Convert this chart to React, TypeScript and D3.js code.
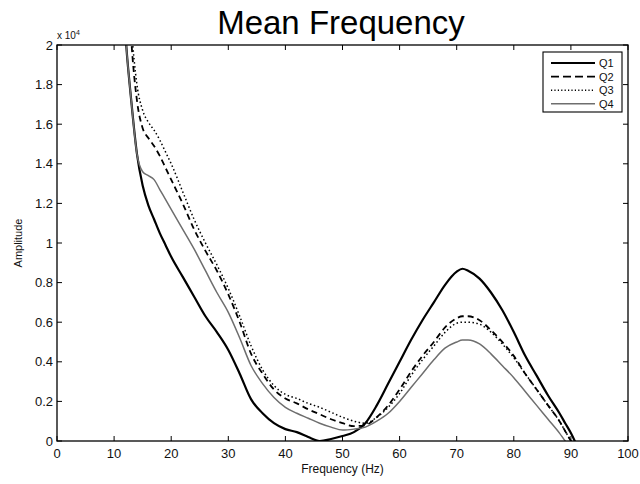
import React from "react";
import * as d3 from "d3";

const xTicks = [0, 10, 20, 30, 40, 50, 60, 70, 80, 90, 100];
const yTicks = [0, 0.2, 0.4, 0.6, 0.8, 1, 1.2, 1.4, 1.6, 1.8, 2];
const seriesNames = ["Q1", "Q2", "Q3", "Q4"];

const freqQ1 = [11, 12, 13, 14, 15, 16, 17, 18, 19, 20, 22, 24, 26, 28, 30, 32, 34, 36, 38, 40, 42, 44, 46, 48, 50, 52, 54, 56, 58, 60, 62, 64, 66, 68, 70, 71, 72, 74, 76, 78, 80, 82, 84, 86, 88, 89, 90, 91];
const ampQ1 = [2.6, 2.05, 1.72, 1.45, 1.29, 1.19, 1.12, 1.05, 0.99, 0.93, 0.83, 0.73, 0.63, 0.55, 0.46, 0.34, 0.21, 0.14, 0.09, 0.06, 0.045, 0.02, 0.0, 0.01, 0.025, 0.045, 0.09, 0.18, 0.29, 0.4, 0.51, 0.61, 0.7, 0.79, 0.855, 0.87, 0.86, 0.82, 0.75, 0.66, 0.55, 0.43, 0.33, 0.23, 0.14, 0.09, 0.04, -0.02];

const freqQ2 = [12, 13, 14, 15, 16, 17, 18, 19, 20, 22, 24, 26, 28, 30, 32, 34, 36, 38, 40, 42, 44, 46, 48, 50, 52, 54, 56, 58, 60, 62, 64, 66, 68, 70, 71, 72, 74, 76, 78, 80, 82, 84, 86, 88, 89, 90, 91];
const ampQ2 = [2.6, 2.03, 1.72, 1.58, 1.53, 1.49, 1.44, 1.38, 1.32, 1.2, 1.07, 0.96, 0.86, 0.74, 0.6, 0.44, 0.34, 0.26, 0.215, 0.19, 0.16, 0.135, 0.11, 0.09, 0.075, 0.08, 0.12, 0.18, 0.26, 0.35, 0.43, 0.5, 0.575, 0.62, 0.63, 0.63, 0.61, 0.56, 0.5, 0.43, 0.34, 0.26, 0.18, 0.1, 0.05, 0.0, -0.05];

const freqQ3 = [12, 13, 14, 15, 16, 17, 18, 19, 20, 22, 24, 26, 28, 30, 32, 34, 36, 38, 40, 42, 44, 46, 48, 50, 52, 54, 56, 58, 60, 62, 64, 66, 68, 70, 71, 72, 74, 76, 78, 80, 82, 84, 86, 88, 89, 90, 91];
const ampQ3 = [2.6, 2.1, 1.8, 1.67, 1.61, 1.57, 1.52, 1.46, 1.4, 1.26, 1.12, 1.0, 0.89, 0.77, 0.63, 0.48, 0.36, 0.28, 0.235, 0.215, 0.19, 0.17, 0.145, 0.12, 0.1, 0.09, 0.12, 0.17, 0.24, 0.33, 0.41, 0.48, 0.55, 0.595, 0.6, 0.6, 0.59, 0.55, 0.49, 0.42, 0.34, 0.26, 0.18, 0.1, 0.05, 0.0, -0.05];

const freqQ4 = [11, 12, 13, 14, 15, 16, 17, 18, 19, 20, 22, 24, 26, 28, 30, 32, 34, 36, 38, 40, 42, 44, 46, 48, 50, 52, 54, 56, 58, 60, 62, 64, 66, 68, 70, 71, 72, 74, 76, 78, 80, 82, 84, 86, 88, 89, 90];
const ampQ4 = [2.6, 2.05, 1.72, 1.45, 1.36, 1.34, 1.32, 1.27, 1.22, 1.17, 1.07, 0.97, 0.86, 0.75, 0.65, 0.52, 0.38, 0.29, 0.22, 0.17, 0.14, 0.115, 0.09, 0.07, 0.055, 0.06, 0.07, 0.1, 0.14, 0.2, 0.27, 0.34, 0.41, 0.47, 0.5, 0.51, 0.51, 0.49, 0.44, 0.38, 0.32, 0.25, 0.18, 0.11, 0.04, 0.0, -0.03];

const W = 640;
const H = 484;
const margin = { left: 57, right: 12, top: 45, bottom: 43 };
const FONT = "'Liberation Sans', Arial, Helvetica, sans-serif";

type Style = { stroke: string; width: number; dash: string | null };
const styles: Style[] = [
  { stroke: "#000", width: 2.2, dash: null },
  { stroke: "#000", width: 1.8, dash: "6,4" },
  { stroke: "#000", width: 1.5, dash: "1.5,2.5" },
  { stroke: "#6e6e6e", width: 1.5, dash: null },
];

export default function App() {
  const x0 = margin.left;
  const x1 = W - margin.right;
  const y0 = H - margin.bottom;
  const y1 = margin.top;
  const x = d3.scaleLinear().domain([0, 100]).range([x0, x1]);
  const y = d3.scaleLinear().domain([0, 2]).range([y0, y1]);
  const line = d3
    .line<[number, number]>()
    .x((d) => x(d[0]))
    .y((d) => y(d[1]))
    .curve(d3.curveMonotoneX);

  const freqs = [freqQ1, freqQ2, freqQ3, freqQ4];
  const amps = [ampQ1, ampQ2, ampQ3, ampQ4];
  const series = freqs.map((f, i) => f.map((v, j) => [v, amps[i][j]] as [number, number]));

  const tickLen = 5;
  const legX = 543;
  const legY = 52;
  const legW = 79;
  const legH = 60;

  return (
    <svg width={W} height={H} style={{ position: "absolute", left: 0, top: 0, background: "#fff" }} fontFamily={FONT}>
      <rect x={0} y={0} width={W} height={H} fill="#fff" />
      <defs>
        <clipPath id="plotclip">
          <rect x={x0} y={y1} width={x1 - x0} height={y0 - y1} />
        </clipPath>
      </defs>
      <text x={341} y={34} textAnchor="middle" fontSize={33} fill="#000">
        Mean Frequency
      </text>
      <g clipPath="url(#plotclip)">
        {series.map((s, i) => (
          <path
            key={i}
            d={line(s) || ""}
            fill="none"
            stroke={styles[i].stroke}
            strokeWidth={styles[i].width}
            strokeDasharray={styles[i].dash || undefined}
            strokeLinejoin="round"
          />
        ))}
      </g>
      <rect x={x0} y={y1} width={x1 - x0} height={y0 - y1} fill="none" stroke="#000" strokeWidth={1.3} />
      {xTicks.map((t) => (
        <g key={"x" + t}>
          <line x1={x(t)} x2={x(t)} y1={y0} y2={y0 - tickLen} stroke="#000" strokeWidth={1} />
          <line x1={x(t)} x2={x(t)} y1={y1} y2={y1 + tickLen} stroke="#000" strokeWidth={1} />
          <text x={x(t)} y={y0 + 17} textAnchor="middle" fontSize={13} fill="#111">
            {t}
          </text>
        </g>
      ))}
      {yTicks.map((t) => (
        <g key={"y" + t}>
          <line x1={x0} x2={x0 + tickLen} y1={y(t)} y2={y(t)} stroke="#000" strokeWidth={1} />
          <line x1={x1} x2={x1 - tickLen} y1={y(t)} y2={y(t)} stroke="#000" strokeWidth={1} />
          <text x={x0 - 4} y={y(t) + 4.5} textAnchor="end" fontSize={13} fill="#111">
            {d3.format("~g")(t)}
          </text>
        </g>
      ))}
      <text x={x0} y={y1 - 6} fontSize={10} fill="#111">
        x 10
        <tspan dy={-4} fontSize={7}>
          4
        </tspan>
      </text>
      <text x={(x0 + x1) / 2} y={H - 11} textAnchor="middle" fontSize={12} fill="#111">
        Frequency (Hz)
      </text>
      <text
        transform={`translate(22, ${(y0 + y1) / 2}) rotate(-90)`}
        textAnchor="middle"
        fontSize={11}
        fill="#111"
      >
        Amplitude
      </text>
      <g>
        <rect x={legX} y={legY} width={legW} height={legH} fill="#fff" stroke="#000" strokeWidth={1.1} />
        {seriesNames.map((n, i) => {
          const ly = legY + 11 + i * 13.6;
          return (
            <g key={n}>
              <line
                x1={legX + 8}
                x2={legX + 52}
                y1={ly}
                y2={ly}
                stroke={styles[i].stroke}
                strokeWidth={styles[i].width}
                strokeDasharray={i === 1 ? "8,4" : i === 2 ? "1.2,2.2" : undefined}
              />
              <text x={legX + 56} y={ly + 4} fontSize={11} fill="#111">
                {n}
              </text>
            </g>
          );
        })}
      </g>
    </svg>
  );
}
